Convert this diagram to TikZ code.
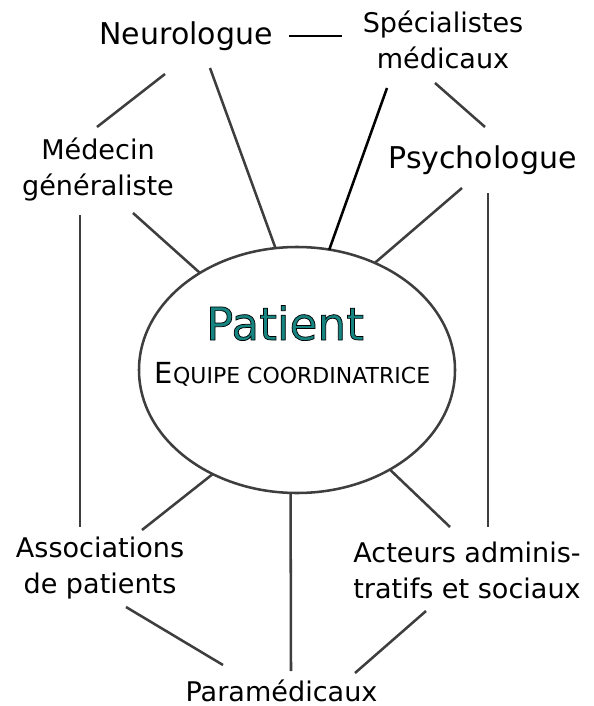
\documentclass[tikz,border=0pt]{standalone}
\usepackage{fontspec}
\setmainfont{DejaVu Sans}
\usetikzlibrary{shapes.geometric}
\definecolor{tealtxt}{RGB}{22,132,128}
\definecolor{linegrey}{RGB}{62,62,62}
\newcommand{\lbltwo}[2]{\begin{tabular}[t]{@{}c@{}}#1\\#2\end{tabular}}
\newcommand{\outlinedtext}[1]{\special{pdf:literal direct 2 Tr 0.55 w 0 0 0 RG}#1\special{pdf:literal direct 0 Tr}}
\begin{document}
\begin{tikzpicture}[x=0.75pt,y=-0.75pt,
  lbl/.style={anchor=base, inner sep=0pt, font=\fontsize{20.3}{27}\selectfont},
  biglbl/.style={anchor=base, inner sep=0pt, font=\fontsize{22.5}{27}\selectfont},
  conn/.style={draw=linegrey, line width=1.9pt},
  darkconn/.style={draw=black, line width=1.9pt}]
\useasboundingbox (0,0) rectangle (593,706);

% central ellipse
\node[draw=linegrey, line width=1.9pt, ellipse, minimum width=237pt, minimum height=184.5pt, inner sep=0pt, outer sep=0pt] (pat) at (297,370) {};
\node[anchor=base, inner sep=0pt, font=\fontsize{34}{40}\selectfont, text=tealtxt] (ptxt) at (285,340)
  {\outlinedtext{Patient}};
\node[anchor=base, inner sep=0pt] (equipe) at (292.5,383)
  {\fontsize{21.75}{26}\selectfont E\fontsize{16.5}{20}\selectfont QUIPE COORDINATRICE};

% labels
\node[biglbl] (neu) at (186,45) {Neurologue};
\node[lbl] (spe) at (443,33) {\lbltwo{Spécialistes}{médicaux}};
\node[lbl] (med) at (98,160) {\lbltwo{Médecin}{généraliste}};
\node[biglbl] (psy) at (482.5,168) {Psychologue};
\node[lbl] (ass) at (100,557) {\lbltwo{Associations}{de patients}};
\node[lbl] (act) at (467,562) {\lbltwo{Acteurs adminis-}{tratifs et sociaux}};
\node[lbl] (para) at (281.5,701) {Paramédicaux};

% connector end points near labels
\coordinate (neu-e) at (289,36);
\coordinate (spe-w) at (342,36);
\coordinate (neu-sw) at (165,74);
\coordinate (med-n) at (97,127);
\coordinate (neu-s) at (210,68);
\coordinate (spe-s) at (387,88);
\coordinate (spe-se) at (435,83);
\coordinate (psy-n) at (485,127);
\coordinate (med-se) at (133,213);
\coordinate (psy-sw) at (462,188);
\coordinate (med-s) at (80,215);
\coordinate (ass-n) at (80,527);
\coordinate (psy-s) at (488,193);
\coordinate (act-n) at (488,527);
\coordinate (ass-ne) at (142,530);
\coordinate (act-nw) at (450,527);
\coordinate (para-n) at (291,671);
\coordinate (ass-se) at (126,607);
\coordinate (para-nw) at (223,665);
\coordinate (act-sw) at (426,611);
\coordinate (para-ne) at (355,673);

% connectors
\draw[darkconn, line width=1.6pt] (neu-e) -- (spe-w);
\draw[conn] (neu-sw) -- (med-n);
\draw[conn] (neu-s) -- (pat.100.1);
\draw[darkconn] (spe-s) -- (pat.75);
\draw[conn] (spe-se) -- (psy-n);
\draw[conn] (med-se) -- (pat.135.9);
\draw[conn] (psy-sw) -- (pat.54.5);
\draw[conn] (med-s) -- (ass-n);
\draw[conn] (psy-s) -- (act-n);
\draw[conn] (ass-ne) -- (pat.231.2);
\draw[conn] (act-nw) -- (pat.313.8);
\draw[conn] (para-n) -- (pat.267.2);
\draw[conn] (ass-se) -- (para-nw);
\draw[conn] (act-sw) -- (para-ne);
\end{tikzpicture}
\end{document}
